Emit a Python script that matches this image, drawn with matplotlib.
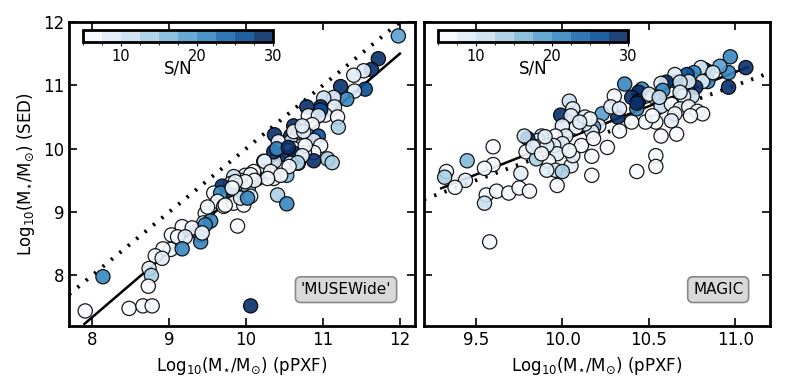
import numpy as np
import matplotlib
matplotlib.use('Agg')
import matplotlib.pyplot as plt
from matplotlib.colors import BoundaryNorm, ListedColormap

# MUSEWide sample: pPXF mass, SED mass, S/N
muse_ppxf = [11.98, 11.72, 11.63, 11.53, 11.40, 11.55, 11.41, 11.23, 11.31, 11.14,
             11.01, 11.15, 11.03, 11.19, 11.20, 11.06, 11.12, 10.97, 10.79, 10.81,
             10.97, 10.94, 10.86, 10.62, 10.37, 10.58, 10.58, 10.81, 10.94, 10.88,
             10.97, 10.73, 10.62, 10.54, 10.42, 10.41, 10.51, 10.64, 10.88, 10.76,
             10.88, 10.68, 10.58, 10.49, 10.37, 10.36, 10.40, 10.23, 10.23, 10.53,
             10.36, 10.15, 10.10, 9.99, 9.93, 9.84, 9.80, 9.69, 9.89, 10.03,
             9.58, 9.67, 9.84, 10.41, 10.53, 9.63, 9.71, 9.84, 9.97, 9.93,
             10.06, 9.47, 9.45, 9.54, 9.37, 9.41, 9.41, 9.89, 9.17, 9.30,
             9.03, 9.11, 9.21, 9.02, 9.17, 8.92, 8.82, 8.91, 8.74, 8.77,
             8.73, 8.14, 7.91, 8.48, 8.66, 8.78, 10.06, 10.62, 10.75, 10.55,
             10.77, 10.73, 10.67, 10.56, 10.24, 10.32, 10.45, 10.06, 10.28, 10.11,
             9.99, 9.86, 9.82, 10.02, 9.73, 9.50, 9.47, 9.43, 10.73]
muse_sed = [11.78, 11.42, 11.25, 11.23, 11.16, 10.94, 10.91, 10.98, 10.78, 10.81,
            10.80, 10.66, 10.53, 10.50, 10.34, 9.84, 9.78, 10.66, 10.66, 10.52,
            10.61, 10.52, 10.38, 10.36, 10.22, 10.20, 10.11, 10.20, 10.20, 10.13,
            10.05, 10.05, 10.00, 9.97, 10.11, 9.97, 9.86, 9.92, 9.94, 9.94,
            9.81, 9.77, 9.77, 9.69, 9.80, 9.95, 10.00, 9.80, 9.64, 9.58,
            9.53, 9.53, 9.64, 9.58, 9.50, 9.56, 9.45, 9.41, 9.41, 9.38,
            9.30, 9.30, 9.30, 9.27, 9.13, 9.17, 9.09, 9.14, 9.11, 9.22,
            9.25, 8.98, 8.83, 8.86, 8.70, 8.63, 8.53, 8.78, 8.77, 8.75,
            8.64, 8.61, 8.61, 8.41, 8.42, 8.42, 8.31, 8.27, 8.11, 8.00,
            7.83, 7.98, 7.44, 7.48, 7.52, 7.52, 7.52, 10.27, 10.27, 10.02,
            10.05, 9.89, 9.78, 9.72, 9.80, 9.64, 9.58, 9.59, 9.53, 9.50,
            9.48, 9.48, 9.38, 9.22, 9.11, 9.08, 8.80, 8.67, 10.36]
muse_sn = [18, 29, 29, 9, 9, 27, 9, 28, 20, 12,
           12, 8, 6, 6, 14, 14, 14, 28, 28, 6,
           27, 8, 6, 28, 28, 28, 10, 10, 26, 8,
           6, 6, 6, 6, 6, 6, 28, 30, 6, 9,
           28, 12, 6, 6, 10, 28, 20, 6, 6, 16,
           8, 28, 6, 8, 6, 10, 6, 28, 6, 15,
           6, 22, 30, 14, 22, 6, 6, 6, 6, 9,
           9, 6, 6, 22, 28, 20, 20, 6, 6, 6,
           6, 6, 9, 6, 20, 6, 6, 9, 9, 14,
           6, 20, 6, 6, 6, 6, 30, 6, 9, 28,
           6, 9, 13, 6, 9, 6, 6, 6, 6, 6,
           6, 9, 6, 20, 6, 6, 20, 6, 9]

# MAGIC sample
magic_ppxf = [10.97, 11.06, 10.96, 10.96, 10.91, 10.84, 10.82, 10.80, 10.76, 10.72,
              10.84, 10.81, 10.77, 10.72, 10.69, 10.75, 10.70, 10.66, 10.65, 10.60,
              10.57, 10.58, 10.55, 10.52, 10.48, 10.46, 10.44, 10.40, 10.43, 10.44,
              10.50, 10.57, 10.63, 10.68, 10.73, 10.78, 10.81, 10.74, 10.65, 10.63,
              10.57, 10.66, 10.54, 10.48, 10.52, 10.40, 10.36, 10.30, 10.23, 10.32,
              10.28, 10.33, 10.33, 10.21, 10.18, 10.17, 10.13, 10.08, 10.04, 9.99,
              10.06, 10.05, 10.08, 10.00, 10.02, 9.96, 10.26, 10.17, 10.17, 10.05,
              10.06, 10.00, 9.95, 9.97, 9.92, 9.96, 9.91, 10.00, 9.97, 9.88,
              9.86, 9.80, 9.78, 9.85, 9.79, 9.85, 9.91, 9.76, 9.60, 9.60,
              9.45, 9.55, 9.33, 9.32, 9.44, 9.38, 9.56, 9.62, 9.69, 9.75,
              9.81, 10.43, 10.54, 10.54, 9.55, 9.58, 10.87, 10.73, 10.68, 10.43,
              10.56, 10.68, 10.13, 10.16, 9.90, 10.11, 10.18, 9.83, 9.88, 10.04,
              10.10]
magic_sed = [11.45, 11.28, 10.97, 11.20, 11.30, 11.22, 11.25, 11.28, 11.20, 11.17,
             11.06, 11.06, 10.97, 10.98, 10.94, 10.83, 10.83, 11.06, 11.17, 11.05,
             11.03, 10.92, 10.81, 10.83, 10.83, 10.94, 10.89, 10.81, 10.63, 10.75,
             10.86, 10.67, 10.70, 10.63, 10.66, 10.59, 10.55, 10.52, 10.55, 10.44,
             10.20, 10.23, 10.42, 10.42, 10.52, 10.42, 11.02, 10.83, 10.55, 10.50,
             10.66, 10.63, 10.28, 10.36, 10.34, 10.27, 10.39, 10.39, 10.75, 10.53,
             10.63, 10.52, 10.34, 10.36, 10.20, 10.20, 10.02, 9.88, 9.58, 9.73,
             9.89, 10.08, 10.05, 9.92, 9.80, 9.66, 9.66, 9.64, 9.42, 10.20,
             10.13, 10.16, 10.20, 10.03, 9.95, 9.84, 10.05, 9.61, 10.03, 9.75,
             9.81, 9.69, 9.64, 9.55, 9.50, 9.39, 9.27, 9.33, 9.30, 9.38,
             9.33, 9.64, 9.89, 9.72, 9.14, 8.53, 11.20, 11.06, 11.05, 10.72,
             10.81, 10.89, 10.50, 10.47, 10.19, 10.05, 10.16, 10.03, 9.92, 9.97,
             10.42]
magic_sn = [22, 30, 28, 20, 18, 22, 27, 9, 22, 26,
            20, 9, 30, 20, 6, 12, 9, 20, 9, 28,
            9, 20, 20, 9, 9, 20, 28, 28, 20, 28,
            9, 10, 6, 9, 6, 6, 6, 6, 6, 9,
            6, 6, 6, 6, 6, 6, 22, 6, 18, 28,
            9, 9, 6, 9, 18, 9, 9, 9, 12, 28,
            9, 9, 6, 9, 9, 6, 6, 6, 6, 9,
            9, 9, 9, 9, 6, 9, 9, 13, 6, 9,
            9, 30, 12, 9, 6, 13, 9, 9, 6, 6,
            16, 6, 6, 14, 9, 6, 6, 6, 6, 6,
            6, 6, 6, 6, 11, 6, 9, 9, 12, 28,
            12, 9, 9, 6, 9, 6, 6, 9, 6, 6,
            9]

# fitted relations: slope, pivot x, pivot y, x start, x end
muse_fit = (1.04, 10.0, 9.42, 7.9, 12.0)
magic_fit = (1.08, 9.3, 9.375, 9.3, 11.07)

levels = np.linspace(5, 30, 11)
cmap = ListedColormap(plt.cm.Blues(np.linspace(0, 1, 10)))
norm = BoundaryNorm(levels, cmap.N)

fig = plt.figure(figsize=(7.85, 3.92), dpi=100)
ax1 = fig.add_axes([0.088, 0.168, 0.441, 0.776])
ax2 = fig.add_axes([0.540, 0.168, 0.441, 0.776])


def panel(ax, xs, ys, sn, fit, label, xlim, lx):
    slope, x0, y0, xa, xb = fit
    xx = np.array([xa, xb])
    ax.plot(xx, y0 + slope * (xx - x0), color='k', lw=1.8, zorder=1)
    one = np.array(xlim)
    ax.plot(one, one, color='k', lw=2.8, ls=(0, (0.6, 2.2)), dash_capstyle='butt', zorder=1)
    sc = ax.scatter(xs, ys, c=np.clip(sn, 5, 29.9), cmap=cmap, norm=norm, s=105,
                    edgecolors='k', linewidths=0.9, alpha=0.9, zorder=2)
    ax.set_xlim(xlim)
    ax.set_ylim(7.2, 12)
    ax.set_xlabel(r'Log$_{10}$(M$_{\star}$/M$_{\odot}$) (pPXF)', fontsize=12)
    for sp in ax.spines.values():
        sp.set_linewidth(2)
    ax.tick_params(direction='in', length=6, width=1.2, top=True, right=True, labelsize=12)
    ax.text(lx, 0.12, label, transform=ax.transAxes,
            ha='center', va='center', fontsize=11,
            bbox=dict(boxstyle='round,pad=0.35', fc='#d9d9d9', ec='#888888', lw=1.2))
    cax = ax.inset_axes([0.04, 0.934, 0.55, 0.04])
    cb = fig.colorbar(sc, cax=cax, orientation='horizontal', ticks=[10, 20, 30])
    cb.outline.set_linewidth(2)
    cb.ax.tick_params(length=3, width=0.8, labelsize=10.5, pad=2)
    cb.set_label('S/N', fontsize=12, labelpad=-3)
    return sc


panel(ax1, muse_ppxf, muse_sed, muse_sn, muse_fit, "'MUSEWide'", (7.7, 12.2), 0.80)
panel(ax2, magic_ppxf, magic_sed, magic_sn, magic_fit, 'MAGIC', (9.2, 11.2), 0.85)

ax1.set_xticks([8, 9, 10, 11, 12])
ax1.set_yticks([8, 9, 10, 11, 12])
ax1.set_ylabel(r'Log$_{10}$(M$_{\star}$/M$_{\odot}$) (SED)', fontsize=12)
ax2.set_xticks([9.5, 10.0, 10.5, 11.0])
ax2.set_xticklabels(['9.5', '10.0', '10.5', '11.0'])
ax2.set_yticks([8, 9, 10, 11, 12])
ax2.set_yticklabels([])

fig.savefig('out.png', dpi=100)
